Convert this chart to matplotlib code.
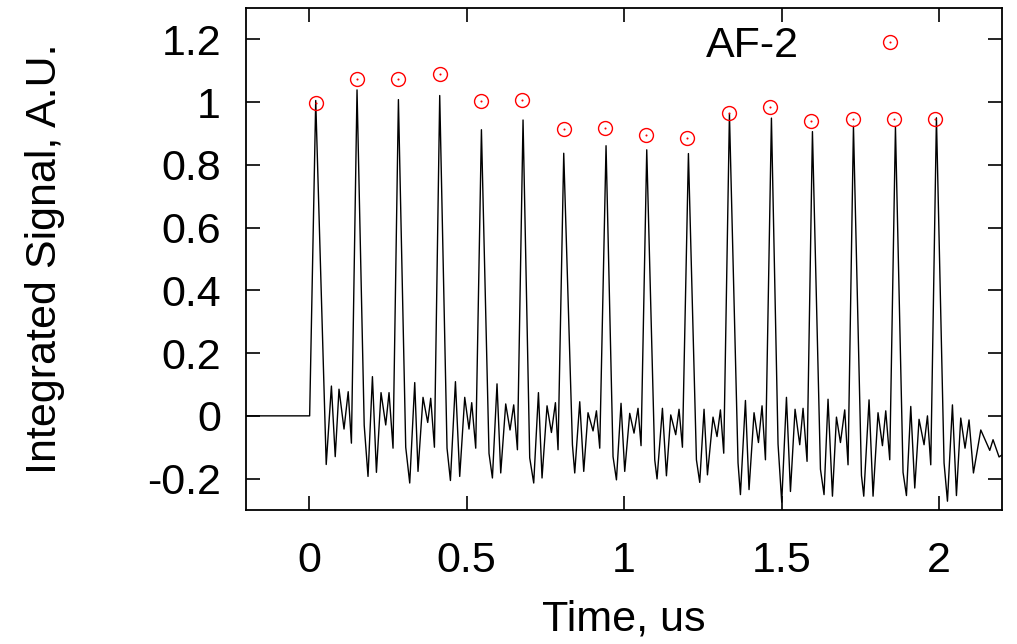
import matplotlib
matplotlib.use('Agg')
import matplotlib.pyplot as plt
from matplotlib.legend_handler import HandlerTuple

# --- fonts / style ---
plt.rcParams['font.family'] = ['Liberation Sans', 'DejaVu Sans']
FS = 31

# --- integrated signal trace (vertices) ---
sig_x = [
    -0.200, 0.002,
    0.0213, 0.0546, 0.0711, 0.0832, 0.0952, 0.1111, 0.1244, 0.1346,
    0.1524, 0.1752, 0.1873, 0.2013, 0.2140, 0.2286, 0.2435, 0.2540, 0.2667,
    0.2838, 0.3070, 0.3197, 0.3356, 0.3460, 0.3619, 0.3768, 0.3863, 0.3981,
    0.4149, 0.4381, 0.4489, 0.4648, 0.4784, 0.4943, 0.5079, 0.5165, 0.5292,
    0.5473, 0.5714, 0.5822, 0.5968, 0.6086, 0.6244, 0.6381, 0.6498, 0.6616,
    0.6794, 0.7006, 0.7133, 0.7283, 0.7397, 0.7556, 0.7695, 0.7822, 0.7905,
    0.8086, 0.8362, 0.8435, 0.8594, 0.8721, 0.8857, 0.9016, 0.9124, 0.9229,
    0.9429, 0.9651, 0.9759, 0.9905, 1.0022, 1.0181, 1.0317, 1.0444, 1.0540,
    1.0721, 1.0975, 1.1048, 1.1219, 1.1346, 1.1483, 1.1641, 1.1746, 1.1854,
    1.2044, 1.2298, 1.2403, 1.2540, 1.2648, 1.2825, 1.2952, 1.3060, 1.3165,
    1.3346, 1.3619, 1.3695, 1.3854, 1.3968, 1.4127, 1.4267, 1.4381, 1.4489,
    1.4679, 1.4889, 1.5006, 1.5156, 1.5283, 1.5429, 1.5578, 1.5683, 1.5810,
    1.5981, 1.6235, 1.6349, 1.6476, 1.6616, 1.6743, 1.6870, 1.7006, 1.7111,
    1.7283, 1.7537, 1.7610, 1.7778, 1.7905, 1.8063, 1.8203, 1.8308, 1.8435,
    1.8616, 1.8857, 1.8965, 1.9102, 1.9229, 1.9365, 1.9524, 1.9632, 1.9737,
    1.9917, 2.0159, 2.0267, 2.0425, 2.0552, 2.0689, 2.0825, 2.0952, 2.1092,
    2.1325, 2.1610, 2.1714, 2.1905, 2.1990,
]
sig_y = [
    0.000, 0.000,
    1.005, -0.155, 0.095, -0.130, 0.085, -0.042, 0.077, -0.087,
    1.039, -0.030, -0.193, 0.125, -0.180, 0.074, -0.029, 0.074, -0.103,
    1.008, -0.100, -0.214, 0.106, -0.177, 0.059, -0.021, 0.056, -0.100,
    1.021, -0.103, -0.206, 0.109, -0.193, 0.059, -0.042, 0.042, -0.103,
    0.912, -0.120, -0.198, 0.102, -0.182, 0.038, -0.045, 0.035, -0.108,
    0.943, -0.134, -0.214, 0.074, -0.198, 0.032, -0.053, 0.042, -0.108,
    0.837, -0.092, -0.182, 0.045, -0.177, 0.010, -0.048, 0.016, -0.103,
    0.861, -0.130, -0.204, 0.040, -0.177, 0.008, -0.055, 0.024, -0.095,
    0.848, -0.140, -0.201, 0.024, -0.191, 0.003, -0.060, 0.021, -0.100,
    0.836, -0.140, -0.212, 0.021, -0.188, -0.004, -0.066, 0.019, -0.119,
    0.962, -0.150, -0.251, 0.049, -0.235, 0.010, -0.085, 0.032, -0.140,
    0.949, -0.090, -0.275, 0.059, -0.241, 0.021, -0.092, 0.024, -0.145,
    0.906, -0.170, -0.251, 0.053, -0.256, -0.004, -0.085, 0.019, -0.156,
    0.923, -0.190, -0.256, 0.051, -0.256, 0.010, -0.095, 0.016, -0.140,
    0.920, -0.180, -0.254, 0.030, -0.230, -0.011, -0.092, 0.000, -0.156,
    0.950, -0.150, -0.272, 0.035, -0.254, -0.007, -0.103, -0.013, -0.182,
    -0.045, -0.110, -0.076, -0.131, -0.125,
]

# --- peak markers (AF-2) ---
af2_x = [0.021, 0.152, 0.284, 0.415, 0.545, 0.676, 0.808, 0.939,
         1.071, 1.201, 1.332, 1.464, 1.595, 1.726, 1.857, 1.988]
af2_y = [0.998, 1.074, 1.074, 1.090, 1.005, 1.008, 0.913, 0.918,
         0.896, 0.886, 0.966, 0.983, 0.940, 0.945, 0.947, 0.946]

xticks = [0, 0.5, 1, 1.5, 2]
xtick_labels = ['0', '0.5', '1', '1.5', '2']
yticks = [-0.2, 0, 0.2, 0.4, 0.6, 0.8, 1, 1.2]
ytick_labels = ['-0.2', '0', '0.2', '0.4', '0.6', '0.8', '1', '1.2']

fig = plt.figure(figsize=(10.17, 6.44), dpi=100)
ax = fig.add_axes([0.2419, 0.2081, 0.7434, 0.7795])

ax.plot(sig_x, sig_y, color='black', lw=1.0)
circ, = ax.plot(af2_x, af2_y, 'o', ms=10, mfc='none', mec='red', mew=1.0)
dot, = ax.plot(af2_x, af2_y, 'o', ms=1.5, mfc='red', mec='red', mew=0)

ax.set_xlim(-0.2, 2.2)
ax.set_ylim(-0.3, 1.3)
ax.set_xticks(xticks)
ax.set_xticklabels(xtick_labels)
ax.set_yticks(yticks)
ax.set_yticklabels(ytick_labels)

ax.tick_params(direction='in', length=10, width=1.2, top=True, right=True,
               labelsize=FS)
ax.tick_params(axis='x', pad=22)
ax.tick_params(axis='y', pad=18)
for s in ax.spines.values():
    s.set_linewidth(1.3)

ax.set_xlabel('Time, us', fontsize=FS)
ax.set_ylabel('Integrated Signal, A.U.', fontsize=FS)
ax.xaxis.set_label_coords(0.5, -0.219)
ax.yaxis.set_label_coords(-0.266, 0.5)
ax.xaxis.label.set_va('center')
ax.yaxis.label.set_va('center')

# legend: circle + centre dot overlaid, text left of the marker
ax.legend([(circ, dot)], ['AF-2'], handler_map={tuple: HandlerTuple(ndivide=1)},
          loc='center right', bbox_to_anchor=(0.988, 0.924), frameon=False,
          markerfirst=False, handlelength=3, handletextpad=0.6, fontsize=FS)

fig.savefig('out.png', dpi=100)
